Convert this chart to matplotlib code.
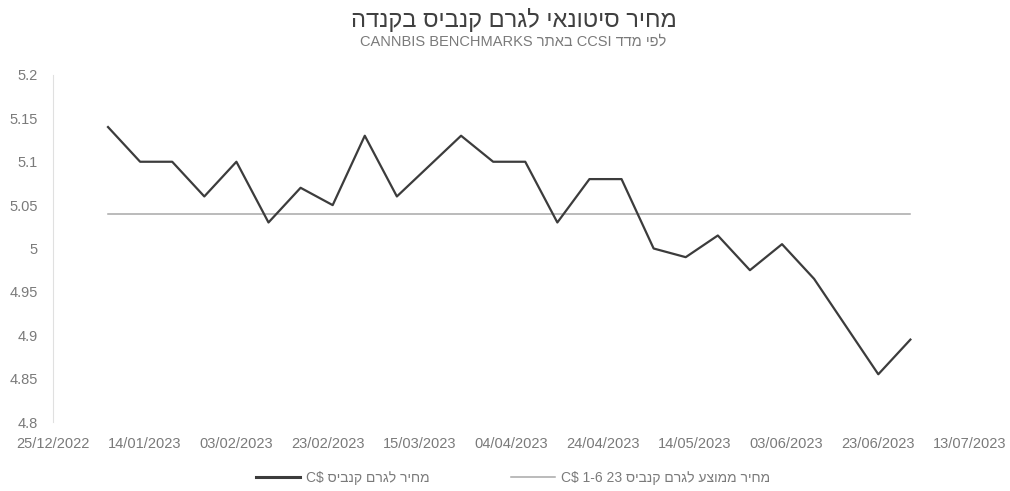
import matplotlib
matplotlib.use("Agg")
import matplotlib.pyplot as plt
import matplotlib.dates as mdates
from matplotlib.ticker import FixedLocator, FuncFormatter
import pandas as pd

# ---- data ----
dates = ["2023-01-06", "2023-01-13", "2023-01-20", "2023-01-27", "2023-02-03",
         "2023-02-10", "2023-02-17", "2023-02-24", "2023-03-03", "2023-03-10",
         "2023-03-17", "2023-03-24", "2023-03-31", "2023-04-07", "2023-04-14",
         "2023-04-21", "2023-04-28", "2023-05-05", "2023-05-12", "2023-05-19",
         "2023-05-26", "2023-06-02", "2023-06-09", "2023-06-16", "2023-06-23",
         "2023-06-30"]
price = [5.14, 5.10, 5.10, 5.06, 5.10, 5.03, 5.07, 5.05, 5.13, 5.06,
         5.095, 5.13, 5.10, 5.10, 5.03, 5.08, 5.08, 5.00, 4.99, 5.015,
         4.975, 5.005, 4.965, 4.91, 4.855, 4.895]
avg_price = [5.04] * len(dates)
x_ticks = ["2022-12-25", "2023-01-14", "2023-02-03", "2023-02-23", "2023-03-15",
           "2023-04-04", "2023-04-24", "2023-05-14", "2023-06-03", "2023-06-23",
           "2023-07-13"]
y_ticks = [4.8, 4.85, 4.9, 4.95, 5.0, 5.05, 5.1, 5.15, 5.2]


def heb(s):
    # visual (left-to-right) order for a pure Hebrew run
    return s[::-1]


title = heb("מחיר סיטונאי לגרם קנביס בקנדה")
subtitle = "CANNBIS BENCHMARKS " + heb("באתר") + " CCSI " + heb("לפי מדד")
label_price = "C$ " + heb("מחיר לגרם קנביס")
label_avg = "C$ 1-6 23 " + heb("מחיר ממוצע לגרם קנביס")

fam = ["Liberation Sans", "DejaVu Sans"]
plt.rcParams["font.family"] = fam

dts = pd.to_datetime(dates)
xt = pd.to_datetime(x_ticks)

fig = plt.figure(figsize=(10.10, 4.91), dpi=100)
ax = fig.add_axes([53 / 1010, 1 - 422 / 491, (970 - 53) / 1010, (422 - 75) / 491])

ax.plot(dts, price, color="#3c3c3c", lw=1.6, label=label_price, zorder=3)
ax.plot(dts, avg_price, color="#a8a8a8", lw=1.1, label=label_avg, zorder=2)

ax.set_xlim(xt[0], xt[-1])
ax.set_ylim(4.8, 5.2)
ax.xaxis.set_major_locator(FixedLocator(mdates.date2num(xt)))
ax.xaxis.set_major_formatter(mdates.DateFormatter("%d/%m/%Y"))
ax.yaxis.set_major_locator(FixedLocator(y_ticks))
ax.yaxis.set_major_formatter(FuncFormatter(lambda v, p: f"{v:g}"))

for s in ["top", "right", "bottom"]:
    ax.spines[s].set_visible(False)
ax.spines["left"].set_color("#e0e0e0")
ax.spines["left"].set_linewidth(0.8)

ax.tick_params(axis="both", length=0, labelsize=10.5, colors="#7a7a7a")
ax.tick_params(axis="y", pad=11)
ax.tick_params(axis="x", pad=11)

fig.text(514 / 1010, 1 - 20 / 491, title, ha="center", va="center",
         fontsize=17, color="#404040")
fig.text(513 / 1010, 1 - 42 / 491, subtitle, ha="center", va="center",
         fontsize=10.5, color="#7a7a7a")

leg = fig.legend(loc="center", bbox_to_anchor=(513 / 1010, 1 - 478 / 491),
                 ncol=2, frameon=False, fontsize=10, handlelength=3.2,
                 columnspacing=5.8, handletextpad=0.45)
for t in leg.get_texts():
    t.set_color("#7a7a7a")
leg.get_lines()[0].set_linewidth(2.2)

fig.savefig("out.png", dpi=100, facecolor="white")
